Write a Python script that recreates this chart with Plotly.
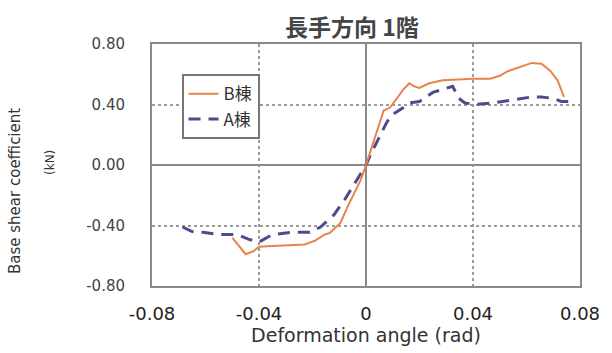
import plotly.graph_objects as go

# ---- data ----
b_x = [-0.050, -0.047, -0.045, -0.042, -0.040, -0.035, -0.030, -0.023, -0.019, -0.0155,
       -0.0136, -0.0096, -0.007, -0.0044, -0.002, 0.0, 0.002, 0.004, 0.0066, 0.009,
       0.0114, 0.014, 0.0162, 0.018, 0.020, 0.0236, 0.0288, 0.035, 0.040, 0.0465,
       0.050, 0.053, 0.058, 0.062, 0.0656, 0.069, 0.0716, 0.074]
b_y = [-0.48, -0.55, -0.59, -0.57, -0.54, -0.535, -0.53, -0.525, -0.50, -0.46,
       -0.45, -0.385, -0.28, -0.19, -0.10, 0.0, 0.11, 0.23, 0.36, 0.38,
       0.44, 0.50, 0.54, 0.52, 0.51, 0.54, 0.56, 0.565, 0.57, 0.57,
       0.59, 0.62, 0.65, 0.675, 0.67, 0.62, 0.56, 0.45]

a_x = [-0.0686, -0.065, -0.061, -0.055, -0.048, -0.044, -0.040, -0.035, -0.028, -0.021,
       -0.017, -0.012, -0.008, -0.0044, -0.002, 0.0, 0.002, 0.005, 0.0077, 0.0096,
       0.014, 0.016, 0.020, 0.025, 0.0288, 0.0324, 0.0347, 0.037, 0.041, 0.047,
       0.0546, 0.062, 0.0656, 0.070, 0.073, 0.0767]
a_y = [-0.41, -0.44, -0.445, -0.46, -0.46, -0.49, -0.51, -0.46, -0.445, -0.445,
       -0.41, -0.33, -0.23, -0.13, -0.06, 0.0, 0.08, 0.18, 0.28, 0.33,
       0.38, 0.41, 0.42, 0.48, 0.50, 0.52, 0.44, 0.41, 0.40, 0.41,
       0.43, 0.45, 0.45, 0.44, 0.42, 0.42]

x_tickvals = [-0.08, -0.04, 0, 0.04, 0.08]
x_ticktext = ["-0.08", "-0.04", "0", "0.04", "0.08"]
y_tickvals = [-0.8, -0.4, 0.0, 0.4, 0.8]
y_ticktext = ["-0.80", "-0.40", "0.00", "0.40", "0.80"]

title_text = "長手方向 1階"
x_title = "Deformation angle (rad)"
y_title_1 = "Base shear coefficient"
y_title_2 = "(kN)"
name_b = "B棟"
name_a = "A棟"

FONT = "DejaVu Sans, sans-serif"
CJK = "Noto Sans CJK JP, sans-serif"

fig = go.Figure()
fig.add_trace(go.Scatter(x=a_x, y=a_y, mode="lines", name=name_a, legendrank=2,
                         line=dict(color="#4D4B8C", width=3, dash="12px,8px")))
fig.add_trace(go.Scatter(x=b_x, y=b_y, mode="lines", name=name_b, legendrank=1,
                         line=dict(color="#E8834A", width=2)))

grid = "#9A9A9A"
fig.update_layout(
    width=612, height=353,
    margin=dict(l=152, r=26, t=44, b=67),
    paper_bgcolor="white", plot_bgcolor="white",
    font=dict(family=FONT, color="#333"),
    showlegend=True,
    legend=dict(x=0.069, y=0.875, xanchor="left", yanchor="top",
                bordercolor="#777", borderwidth=2, bgcolor="white",
                font=dict(family=CJK, size=17, color="#333"),
                tracegroupgap=0),
    annotations=[
        dict(text="<b>" + title_text + "</b>", xref="paper", yref="paper",
             x=(355 - 152) / 434, y=1.0, yshift=18, showarrow=False,
             xanchor="center", yanchor="middle",
             font=dict(family=CJK, size=23, color="#444")),
        dict(text=y_title_1, xref="paper", yref="paper", x=0, xshift=-137,
             y=0.5, yshift=-26, showarrow=False, textangle=-90,
             xanchor="center", yanchor="middle",
             font=dict(family=FONT, size=15, color="#333")),
        dict(text=y_title_2, xref="paper", yref="paper", x=0, xshift=-102,
             y=0.5, yshift=2, showarrow=False, textangle=-90,
             xanchor="center", yanchor="middle",
             font=dict(family=FONT, size=12, color="#333")),
    ],
)
fig.update_xaxes(
    range=[-0.08, 0.08], tickvals=x_tickvals, ticktext=x_ticktext,
    showgrid=True, gridcolor=grid, griddash="dot", gridwidth=1.5,
    zeroline=True, zerolinecolor="#8A8A8A", zerolinewidth=2,
    showline=True, linecolor="#8A8A8A", linewidth=2, mirror=True,
    ticks="outside", ticklen=10, tickcolor="rgba(0,0,0,0)",
    tickfont=dict(size=18, color="#222"),
    title=dict(text=x_title, font=dict(size=19, color="#333"), standoff=4),
)
fig.update_yaxes(
    range=[-0.8, 0.8], tickvals=y_tickvals, ticktext=y_ticktext,
    showgrid=True, gridcolor=grid, griddash="dot", gridwidth=1.5,
    zeroline=True, zerolinecolor="#8A8A8A", zerolinewidth=2,
    showline=True, linecolor="#8A8A8A", linewidth=2, mirror=True,
    ticks="outside", ticklen=22, tickcolor="rgba(0,0,0,0)",
    tickfont=dict(size=15, color="#444"),
)

fig.write_html("out.html", config={"displayModeBar": False},
               post_script="document.body.style.margin='0';document.body.style.padding='0';")
